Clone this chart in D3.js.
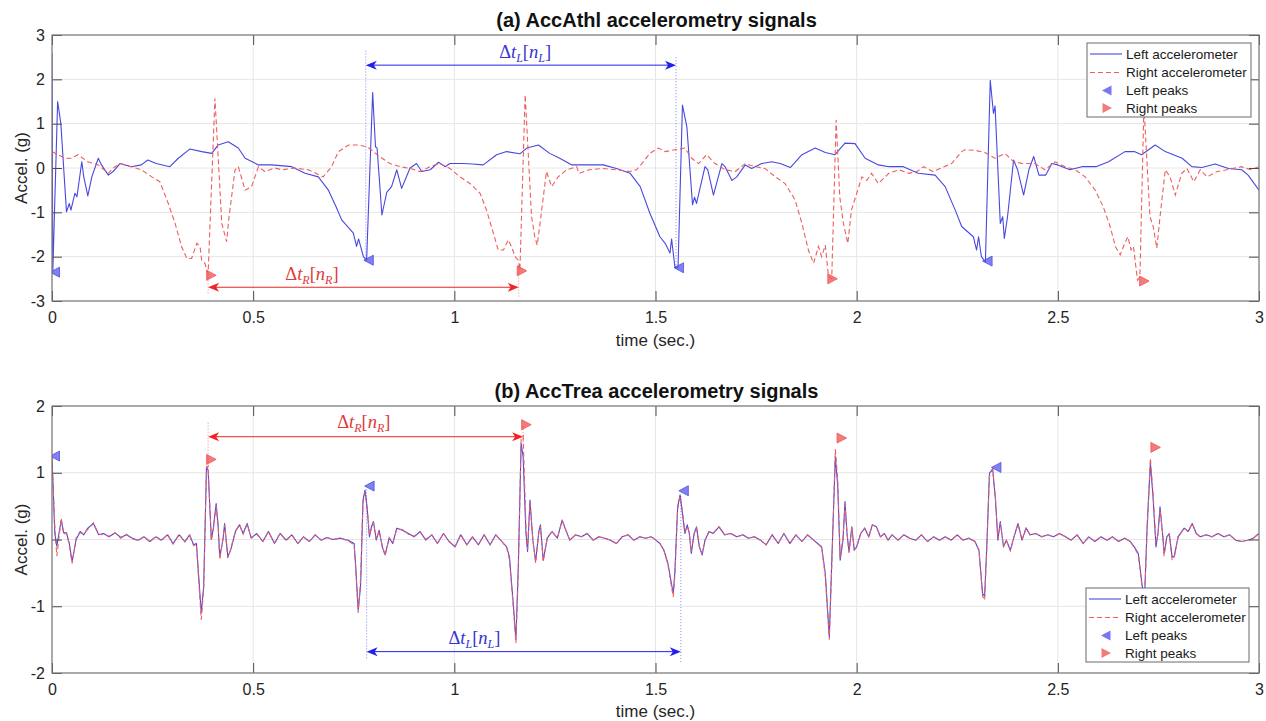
<!DOCTYPE html>
<html>
<head>
<meta charset="utf-8">
<script src="https://cdn.jsdelivr.net/npm/d3@7"></script>
<style>
  body { margin: 0; background: #fff; }
  svg { display: block; font-family: "Liberation Sans", Arial, sans-serif; }
</style>
</head>
<body>
<svg id="chart" width="1266" height="721"></svg>
<script>
/**
 * Data
 */
var timeTicks = [0, 0.5, 1, 1.5, 2, 2.5, 3];
var accTicksA = [-3, -2, -1, 0, 1, 2, 3];
var accTicksB = [-2, -1, 0, 1, 2];
var legendLabels = ['Left accelerometer', 'Right accelerometer', 'Left peaks', 'Right peaks'];

// (a) AccAthl: [time, accel] pairs
var athlLeft = [[0,2.6],[0.002,-2.35],[0.014,1.5],[0.022,1.0],[0.036,-0.99],[0.043,-0.8],[0.047,-0.95],[0.057,-0.57],[0.062,-0.65],[0.074,0.14],[0.079,-0.2],[0.089,-0.63],[0.099,-0.2],[0.115,0.22],[0.123,0.07],[0.14,-0.16],[0.152,-0.08],[0.169,0.1],[0.197,0.03],[0.222,0.07],[0.238,0.18],[0.259,0.1],[0.293,0.03],[0.314,0.22],[0.343,0.43],[0.372,0.37],[0.397,0.33],[0.413,0.52],[0.438,0.59],[0.463,0.45],[0.48,0.22],[0.513,0.07],[0.546,0.07],[0.596,0.03],[0.629,-0.12],[0.662,-0.2],[0.687,-0.5],[0.705,-0.85],[0.72,-1.17],[0.749,-1.47],[0.757,-1.77],[0.762,-1.6],[0.774,-2.0],[0.782,-2.08],[0.797,1.7],[0.804,0.48],[0.808,0.45],[0.82,-1.06],[0.832,-0.55],[0.844,-0.42],[0.857,-0.04],[0.869,-0.46],[0.89,0.0],[0.906,0.1],[0.919,-0.08],[0.94,-0.04],[0.961,0.13],[0.977,0.03],[0.989,0.1],[1.022,0.1],[1.045,0.09],[1.072,0.07],[1.105,0.3],[1.13,0.37],[1.163,0.32],[1.18,0.45],[1.209,0.52],[1.237,0.33],[1.262,0.22],[1.292,0.07],[1.32,0.07],[1.37,0.07],[1.403,-0.01],[1.437,-0.12],[1.462,-0.42],[1.486,-1.02],[1.511,-1.55],[1.524,-1.7],[1.536,-1.92],[1.54,-1.6],[1.548,-2.22],[1.556,-2.25],[1.567,1.42],[1.578,0.93],[1.592,-0.83],[1.597,-0.66],[1.602,-0.8],[1.623,0.03],[1.63,-0.04],[1.644,-0.61],[1.665,0.1],[1.673,0.03],[1.69,-0.28],[1.702,-0.2],[1.723,0.07],[1.739,-0.01],[1.764,0.1],[1.789,0.14],[1.81,0.1],[1.835,0.01],[1.864,0.3],[1.897,0.45],[1.922,0.35],[1.946,0.3],[1.971,0.56],[1.996,0.55],[2.021,0.22],[2.054,0.07],[2.08,0.03],[2.116,0.03],[2.153,-0.12],[2.195,-0.16],[2.22,-0.42],[2.245,-0.95],[2.261,-1.32],[2.29,-1.55],[2.298,-1.85],[2.303,-1.55],[2.31,-2.0],[2.32,-2.12],[2.332,1.98],[2.34,1.23],[2.344,1.4],[2.357,-1.25],[2.363,-1.1],[2.367,-1.59],[2.375,-1.1],[2.39,0.18],[2.4,-0.04],[2.415,-0.61],[2.428,-0.04],[2.44,0.26],[2.453,-0.16],[2.47,-0.16],[2.485,0.1],[2.5,0.07],[2.53,-0.04],[2.56,0.03],[2.595,0.03],[2.626,0.14],[2.667,0.37],[2.69,0.37],[2.708,0.3],[2.742,0.52],[2.767,0.37],[2.809,0.22],[2.833,0.03],[2.858,0.01],[2.891,0.09],[2.924,-0.01],[2.957,-0.04],[2.973,-0.16],[3.0,-0.5]];

var athlRight = [[0,0.37],[0.032,0.22],[0.048,0.22],[0.065,0.3],[0.089,0.14],[0.115,0.07],[0.14,-0.12],[0.152,0.0],[0.17,0.1],[0.197,0.03],[0.222,-0.04],[0.248,-0.2],[0.268,-0.31],[0.289,-0.8],[0.306,-1.25],[0.322,-1.77],[0.335,-2.04],[0.347,-2.04],[0.36,-1.7],[0.368,-1.77],[0.372,-2.08],[0.38,-2.15],[0.388,-2.38],[0.405,1.57],[0.422,-1.25],[0.434,-1.66],[0.44,-1.1],[0.455,-0.04],[0.463,0.03],[0.48,-0.5],[0.496,-0.42],[0.513,0.03],[0.529,-0.08],[0.554,0.0],[0.571,-0.04],[0.604,0.0],[0.637,-0.04],[0.674,-0.2],[0.695,0.03],[0.712,0.37],[0.737,0.52],[0.762,0.52],[0.782,0.48],[0.795,0.4],[0.815,0.25],[0.84,0.1],[0.865,0.03],[0.89,-0.01],[0.915,-0.08],[0.94,0.03],[0.964,0.1],[0.989,-0.01],[1.014,-0.2],[1.039,-0.35],[1.064,-0.57],[1.08,-0.95],[1.097,-1.47],[1.109,-1.85],[1.122,-1.85],[1.134,-1.62],[1.142,-1.77],[1.151,-2.0],[1.159,-2.08],[1.163,-2.3],[1.176,1.65],[1.192,-1.1],[1.2,-1.55],[1.206,-1.74],[1.213,-1.25],[1.229,-0.08],[1.242,-0.42],[1.258,-0.2],[1.279,-0.04],[1.304,0.03],[1.31,-0.12],[1.335,-0.04],[1.368,-0.01],[1.403,-0.04],[1.437,-0.08],[1.453,-0.04],[1.466,0.1],[1.486,0.33],[1.507,0.45],[1.524,0.37],[1.548,0.41],[1.573,0.45],[1.59,0.22],[1.607,0.1],[1.627,0.3],[1.648,0.1],[1.673,-0.04],[1.698,-0.08],[1.723,0.1],[1.748,0.03],[1.772,-0.01],[1.798,-0.2],[1.822,-0.35],[1.847,-0.72],[1.864,-1.25],[1.88,-1.85],[1.893,-2.15],[1.905,-1.77],[1.913,-2.0],[1.922,-1.74],[1.93,-2.45],[1.938,-2.5],[1.949,1.08],[1.958,-0.65],[1.967,-1.25],[1.978,-1.7],[1.987,-0.95],[2.013,-0.2],[2.025,-0.28],[2.037,-0.12],[2.054,-0.35],[2.08,-0.12],[2.105,-0.04],[2.13,-0.12],[2.15,-0.08],[2.166,0.03],[2.19,-0.08],[2.236,0.1],[2.261,0.37],[2.269,0.41],[2.294,0.4],[2.319,0.35],[2.344,0.22],[2.369,0.33],[2.39,0.14],[2.415,0.1],[2.443,0.1],[2.468,-0.04],[2.493,0.14],[2.518,0.03],[2.543,-0.04],[2.568,-0.2],[2.593,-0.5],[2.613,-0.88],[2.63,-1.32],[2.643,-1.77],[2.655,-1.96],[2.663,-1.77],[2.674,-1.55],[2.682,-1.85],[2.688,-1.77],[2.692,-2.08],[2.698,-2.53],[2.704,-2.45],[2.714,1.4],[2.729,-1.1],[2.737,-1.32],[2.746,-1.81],[2.754,-1.1],[2.767,-0.04],[2.779,-0.2],[2.792,-0.61],[2.808,-0.12],[2.821,-0.01],[2.838,-0.31],[2.854,-0.04],[2.871,-0.2],[2.896,-0.08],[2.92,-0.04],[2.956,0.03],[2.98,-0.04],[3.0,0.03]];

var athlLeftPeakT = [0, 0.78, 1.551, 2.318];
var athlLeftPeakV = [-2.35, -2.08, -2.25, -2.1];
var athlRightPeakT = [0.388, 1.16, 1.932, 2.707];
var athlRightPeakV = [-2.42, -2.32, -2.5, -2.55];

// (b) AccTrea: shared time base, two signals
var treaTime = [0,0.007,0.012,0.023,0.029,0.036,0.043,0.05,0.06,0.07,0.079,0.089,0.103,0.116,0.128,0.142,0.157,0.171,0.185,0.2,0.214,0.229,0.243,0.258,0.272,0.287,0.301,0.316,0.33,0.342,0.352,0.359,0.364,0.371,0.377,0.384,0.388,0.396,0.401,0.408,0.413,0.417,0.425,0.429,0.437,0.444,0.456,0.466,0.475,0.485,0.495,0.509,0.524,0.538,0.553,0.567,0.582,0.596,0.611,0.625,0.64,0.654,0.669,0.683,0.698,0.717,0.736,0.751,0.755,0.761,0.767,0.773,0.778,0.783,0.789,0.794,0.799,0.806,0.813,0.821,0.828,0.838,0.847,0.857,0.871,0.886,0.9,0.915,0.929,0.944,0.958,0.973,0.987,1.002,1.016,1.031,1.045,1.06,1.074,1.089,1.103,1.118,1.13,1.137,1.147,1.153,1.159,1.166,1.171,1.178,1.182,1.188,1.195,1.202,1.21,1.214,1.221,1.231,1.243,1.256,1.268,1.277,1.287,1.301,1.316,1.33,1.345,1.359,1.374,1.388,1.403,1.417,1.432,1.446,1.461,1.475,1.49,1.501,1.511,1.521,1.531,1.541,1.544,1.548,1.555,1.561,1.567,1.573,1.579,1.584,1.589,1.596,1.602,1.609,1.616,1.623,1.633,1.643,1.658,1.672,1.687,1.702,1.717,1.731,1.746,1.761,1.775,1.79,1.805,1.819,1.834,1.849,1.864,1.878,1.893,1.903,1.913,1.922,1.932,1.939,1.947,1.953,1.959,1.966,1.971,1.976,1.981,1.988,1.994,2.0,2.01,2.02,2.03,2.039,2.049,2.059,2.069,2.078,2.088,2.103,2.117,2.132,2.147,2.161,2.176,2.191,2.206,2.22,2.235,2.25,2.264,2.279,2.294,2.304,2.313,2.318,2.323,2.33,2.338,2.345,2.351,2.357,2.365,2.372,2.382,2.391,2.401,2.411,2.421,2.431,2.445,2.46,2.475,2.489,2.504,2.519,2.533,2.548,2.563,2.577,2.592,2.607,2.622,2.636,2.651,2.666,2.68,2.69,2.7,2.708,2.715,2.722,2.73,2.736,2.744,2.749,2.754,2.761,2.764,2.771,2.777,2.784,2.789,2.799,2.814,2.824,2.834,2.844,2.854,2.869,2.883,2.898,2.913,2.927,2.942,2.957,2.972,2.986,3.0];
var treaLeft = [1.25,0.09,-0.1,0.29,0.1,0.1,-0.06,-0.33,0,0.12,0.07,0.17,0.24,0.07,0.09,0.04,0.1,0.03,0.07,0.02,-0.01,0.04,-0.03,0.04,-0.01,0.07,-0.06,0.07,-0.03,0.07,-0.08,-0.06,-0.5,-1.1,-0.7,1.09,1.04,0,0.17,0.54,0.19,-0.26,0,0.24,-0.26,-0.16,0.12,0.22,0.09,0.24,0.02,0.09,-0.03,0.12,-0.06,0.09,-0.01,0.07,-0.06,0.04,-0.03,0.07,-0.01,0.03,0,0.02,-0.01,-0.06,-0.41,-1.06,-0.7,0.59,0.74,0.49,0.04,0.19,0.27,-0.01,0.14,-0.11,-0.23,0.02,-0.06,0.17,0.14,0.09,0.04,0.12,-0.01,0.07,-0.06,0.09,-0.03,-0.11,0.07,-0.08,0.04,-0.08,0.07,-0.08,0.07,-0.03,-0.11,-0.26,-1.0,-1.5,-0.4,1.44,1.24,0.09,-0.18,0.59,0,-0.33,0.12,0.22,-0.31,0.02,0.12,0.02,0.29,0.14,-0.01,0.07,0.04,0.09,-0.01,0.04,0.02,-0.01,-0.06,0.04,0.07,-0.01,0.04,0.02,0.04,-0.01,-0.06,-0.16,-0.36,-0.71,-0.8,-0.51,0.49,0.67,0.39,0.09,0.22,0.09,-0.21,0.09,0.19,-0.11,-0.23,-0.01,0.12,0.09,0.19,0.07,0.09,0.04,0.07,0.02,0.04,-0.01,-0.08,0.07,-0.06,0.09,-0.06,0.07,-0.03,0.07,-0.01,-0.06,-0.11,-0.51,-1.46,-0.16,1.24,0.79,-0.31,-0.01,0.57,0.09,-0.18,0.19,-0.16,-0.11,0.09,0.17,0.04,0.22,0.19,0.04,0.09,-0.01,0.07,-0.01,0.07,0.02,-0.01,0.07,-0.03,0.04,-0.01,0.04,-0.01,0.07,-0.01,0.02,-0.03,-0.16,-0.81,-0.85,-0.16,0.99,1.06,0.59,-0.01,0.27,-0.11,-0.01,-0.16,0.04,0.24,-0.01,0.17,0.07,0.09,0.04,0.07,0.04,0.09,0.04,-0.01,0.07,-0.06,0.04,-0.03,0.04,-0.01,0.04,-0.03,0.02,-0.03,-0.11,-0.21,-0.61,-0.95,0.2,1.14,0.69,-0.11,0.1,0.49,0.04,-0.21,0.04,0.09,-0.26,-0.26,0.04,0.17,0.12,0.24,0.09,0.04,0.07,0.04,0.09,0.04,0.07,-0.01,-0.03,-0.01,0.02,0.09];
var treaRight = [1.2,0.2,-0.25,0.32,0.08,0.1,-0.08,-0.36,0.02,0.1,0.09,0.15,0.25,0.08,0.07,0.05,0.1,0.02,0.08,0.01,-0.02,0.05,-0.04,0.05,-0.02,0.08,-0.07,0.08,-0.04,0.06,-0.09,-0.08,-0.55,-1.2,-0.75,1.08,1.1,-0.02,0.15,0.5,0.2,-0.3,0.02,0.22,-0.28,-0.15,0.13,0.22,0.08,0.23,0.03,0.08,-0.03,0.12,-0.05,0.09,-0.02,0.07,-0.06,0.04,-0.03,0.07,-0.01,0.03,0,0.02,-0.02,-0.08,-0.45,-1.1,-0.6,0.55,0.7,0.5,0.06,0.17,0.25,0,0.13,-0.1,-0.24,0.03,-0.05,0.16,0.15,0.08,0.05,0.11,0,0.07,-0.06,0.09,-0.03,-0.1,0.07,-0.08,0.04,-0.08,0.07,-0.08,0.07,-0.03,-0.12,-0.3,-1.05,-1.55,-0.5,1.5,1.55,0.2,-0.15,0.55,0.02,-0.35,0.1,0.2,-0.33,0.03,0.12,0.02,0.28,0.15,-0.01,0.07,0.04,0.09,-0.01,0.04,0.02,-0.01,-0.06,0.04,0.07,-0.01,0.04,0.02,0.04,-0.01,-0.06,-0.17,-0.38,-0.75,-0.86,-0.55,0.45,0.65,0.42,0.12,0.2,0.1,-0.18,0.08,0.17,-0.1,-0.22,-0.01,0.12,0.09,0.19,0.07,0.09,0.04,0.07,0.02,0.04,-0.01,-0.08,0.07,-0.06,0.09,-0.06,0.07,-0.03,0.07,-0.01,-0.06,-0.12,-0.55,-1.5,-0.25,1.35,0.9,-0.28,0.02,0.52,0.1,-0.2,0.18,-0.15,-0.11,0.09,0.17,0.04,0.22,0.19,0.04,0.09,-0.01,0.07,-0.01,0.07,0.02,-0.01,0.07,-0.03,0.04,-0.01,0.04,-0.01,0.07,-0.01,0.02,-0.03,-0.17,-0.85,-0.91,-0.2,0.95,1.05,0.62,0,0.25,-0.1,-0.01,-0.17,0.04,0.23,-0.01,0.17,0.07,0.09,0.04,0.07,0.04,0.09,0.04,-0.01,0.07,-0.06,0.04,-0.03,0.04,-0.01,0.04,-0.03,0.02,-0.03,-0.12,-0.23,-0.65,-1.0,0.15,1.22,0.75,-0.05,0.08,0.45,0.06,-0.25,0.03,0.08,-0.3,-0.28,0.04,0.17,0.12,0.24,0.09,0.04,0.07,0.04,0.09,0.04,0.07,-0.01,-0.03,-0.01,0.02,0.09];

var treaLeftPeakT = [0, 0.782, 1.563, 2.34];
var treaLeftPeakV = [1.25, 0.8, 0.73, 1.08];
var treaRightPeakT = [0.388, 1.171, 1.955, 2.735];
var treaRightPeakV = [1.2, 1.72, 1.52, 1.38];

/**
 * Layout and styles
 */
var svg = d3.select('#chart');
var plotL = 52, plotR = 1259;
var blue = '#4848e0', red = '#ec5e5e';
var annBlue = '#2020ee', annRed = '#f02424';

var xScale = d3.scaleLinear().domain([0, 3]).range([plotL, plotR]);

var panels = [
    {
        id: 'a', title: '(a) AccAthl accelerometry signals', titleY: 27,
        top: 35, bottom: 301, yDomain: [-3, 3], yTicks: accTicksA, xlabelY: 346,
        left: athlLeft, right: athlRight,
        leftPeaks: d3.zip(athlLeftPeakT, athlLeftPeakV),
        rightPeaks: d3.zip(athlRightPeakT, athlRightPeakV),
        legend: {x: 1087, y: 43, w: 164, h: 74},
        // dotted guides: [time, from, to, colour]
        guides: [[athlLeftPeakT[1], 2.65, -2.1, annBlue], [athlLeftPeakT[2], 2.5, -2.3, annBlue],
                 [athlRightPeakT[0], -2.4, -2.85, annRed], [athlRightPeakT[1], -2.2, -2.9, annRed]],
        // arrows: [t0, t1, level, colour, label sub, label t, label level]
        arrows: [[athlLeftPeakT[1], athlLeftPeakT[2], 2.32, annBlue, 'L', 1.176, 2.48],
                 [athlRightPeakT[0], athlRightPeakT[1], -2.69, annRed, 'R', 0.646, -2.53]]
    },
    {
        id: 'b', title: '(b) AccTrea accelerometry signals', titleY: 398,
        top: 406, bottom: 673, yDomain: [-2, 2], yTicks: accTicksB, xlabelY: 717,
        left: d3.zip(treaTime, treaLeft), right: d3.zip(treaTime, treaRight),
        leftPeaks: d3.zip(treaLeftPeakT, treaLeftPeakV),
        rightPeaks: d3.zip(treaRightPeakT, treaRightPeakV),
        legend: {x: 1086, y: 588, w: 163, h: 74},
        guides: [[treaRightPeakT[0], 1.75, 1.1, annRed], [treaRightPeakT[1], 1.7, 1.45, annRed],
                 [treaLeftPeakT[1], 0.75, -1.8, annBlue], [treaLeftPeakT[2], 0.65, -1.85, annBlue]],
        arrows: [[treaRightPeakT[0], treaRightPeakT[1], 1.54, annRed, 'R', 0.775, 1.67],
                 [treaLeftPeakT[1], treaLeftPeakT[2], -1.68, annBlue, 'L', 1.05, -1.57]]
    }
];

// triangle marker paths
var triLeft = 'M-5,0L4.5,-5L4.5,5Z';
var triRight = 'M5,0L-4.5,-5L-4.5,5Z';

function arrowHead(x, y, dir) {
    // notched arrow head, tip at (x,y), dir = +1 points right
    var L = 11, w = 4.5, n = 3;
    return 'M' + x + ',' + y + 'L' + (x - dir * L) + ',' + (y - w) +
        'L' + (x - dir * (L - n)) + ',' + y + 'L' + (x - dir * L) + ',' + (y + w) + 'Z';
}

function mathLabel(g, x, y, sub, color) {
    var t = g.append('text').attr('x', x).attr('y', y)
        .attr('text-anchor', 'middle')
        .attr('font-family', '"Liberation Serif", "DejaVu Serif", serif')
        .attr('font-size', 18.5).attr('fill', color);
    t.append('tspan').text('\u0394');
    t.append('tspan').attr('font-style', 'italic').text('t');
    t.append('tspan').attr('font-style', 'italic').attr('font-size', 12).attr('dy', 4).text(sub);
    t.append('tspan').attr('dy', -4).text('[');
    t.append('tspan').attr('font-style', 'italic').text('n');
    t.append('tspan').attr('font-style', 'italic').attr('font-size', 12).attr('dy', 4).text(sub);
    t.append('tspan').attr('dy', -4).text(']');
}

function drawPanel(p) {
    var yScale = d3.scaleLinear().domain(p.yDomain).range([p.bottom, p.top]);
    var g = svg.append('g');

    // grid
    g.selectAll('.gx').data(timeTicks).join('line')
        .attr('x1', d => xScale(d)).attr('x2', d => xScale(d))
        .attr('y1', p.top).attr('y2', p.bottom)
        .attr('stroke', '#e6e6e6').attr('stroke-width', 1);
    g.selectAll('.gy').data(p.yTicks).join('line')
        .attr('x1', plotL).attr('x2', plotR)
        .attr('y1', d => yScale(d)).attr('y2', d => yScale(d))
        .attr('stroke', '#e6e6e6').attr('stroke-width', 1);

    svg.append('clipPath').attr('id', 'clip-' + p.id)
        .append('rect').attr('x', plotL).attr('y', p.top)
        .attr('width', plotR - plotL).attr('height', p.bottom - p.top);

    var plot = g.append('g').attr('clip-path', 'url(#clip-' + p.id + ')');
    var line = d3.line().x(d => xScale(d[0])).y(d => yScale(d[1]));

    plot.append('path').datum(p.left).attr('d', line)
        .attr('fill', 'none').attr('stroke', blue).attr('stroke-width', 1.1)
        .attr('stroke-linejoin', 'round');
    plot.append('path').datum(p.right).attr('d', line)
        .attr('fill', 'none').attr('stroke', red).attr('stroke-width', 1.1)
        .attr('stroke-dasharray', '5,3');

    // peak markers
    plot.selectAll('.lp').data(p.leftPeaks).join('path')
        .attr('d', triLeft)
        .attr('transform', d => 'translate(' + [xScale(d[0]) + 3, yScale(d[1])] + ')')
        .attr('fill', '#5555ee').attr('fill-opacity', 0.75).attr('stroke', '#5050e0').attr('stroke-width', 0.8);
    plot.selectAll('.rp').data(p.rightPeaks).join('path')
        .attr('d', triRight)
        .attr('transform', d => 'translate(' + [xScale(d[0]) + 3, yScale(d[1])] + ')')
        .attr('fill', '#f05a5a').attr('fill-opacity', 0.8).attr('stroke', '#ee5555').attr('stroke-width', 0.8);

    // dotted guides
    g.selectAll('.guide').data(p.guides).join('line')
        .attr('x1', d => xScale(d[0])).attr('x2', d => xScale(d[0]))
        .attr('y1', d => yScale(d[1])).attr('y2', d => yScale(d[2]))
        .attr('stroke', d => d[3]).attr('stroke-width', 0.8)
        .attr('stroke-dasharray', '1,2').attr('opacity', 0.7);

    // double arrows with labels
    p.arrows.forEach(function(a) {
        var x0 = xScale(a[0]), x1 = xScale(a[1]), yy = yScale(a[2]);
        g.append('line').attr('x1', x0 + 4).attr('x2', x1 - 4)
            .attr('y1', yy).attr('y2', yy)
            .attr('stroke', a[3]).attr('stroke-width', 1);
        g.append('path').attr('d', arrowHead(x0, yy, -1)).attr('fill', a[3]);
        g.append('path').attr('d', arrowHead(x1, yy, 1)).attr('fill', a[3]);
        mathLabel(g, xScale(a[5]), yScale(a[6]), a[4], a[3] === annBlue ? '#3535d0' : '#e03a3a');
    });

    // axes (ticks inside, mirrored)
    var fmt = d => String(d);
    var axes = [
        g.append('g').attr('transform', 'translate(0,' + p.bottom + ')')
            .call(d3.axisBottom(xScale).tickValues(timeTicks).tickFormat(fmt).tickSize(-10).tickPadding(11)),
        g.append('g').attr('transform', 'translate(0,' + p.top + ')')
            .call(d3.axisTop(xScale).tickValues(timeTicks).tickFormat('').tickSize(-10)),
        g.append('g').attr('transform', 'translate(' + plotL + ',0)')
            .call(d3.axisLeft(yScale).tickValues(p.yTicks).tickFormat(fmt).tickSize(-10).tickPadding(7)),
        g.append('g').attr('transform', 'translate(' + plotR + ',0)')
            .call(d3.axisRight(yScale).tickValues(p.yTicks).tickFormat('').tickSize(-10))
    ];
    axes.forEach(function(ax) {
        ax.select('.domain').remove();
        ax.selectAll('.tick line').attr('stroke', '#4a4a4a');
        ax.selectAll('.tick text').attr('font-size', 16).attr('fill', '#262626')
            .attr('font-family', '"Liberation Sans", Arial, sans-serif');
    });

    g.append('rect').attr('x', plotL).attr('y', p.top)
        .attr('width', plotR - plotL).attr('height', p.bottom - p.top)
        .attr('fill', 'none').attr('stroke', '#7a7a7a').attr('stroke-width', 1.2);

    // labels
    g.append('text').attr('x', (plotL + plotR) / 2 + 1).attr('y', p.titleY)
        .attr('text-anchor', 'middle').attr('font-size', 20).attr('font-weight', 'bold')
        .attr('fill', '#111').text(p.title);
    g.append('text').attr('x', (plotL + plotR) / 2).attr('y', p.xlabelY)
        .attr('text-anchor', 'middle').attr('font-size', 17).attr('fill', '#262626')
        .text('time (sec.)');
    g.append('text')
        .attr('transform', 'translate(21,' + ((p.top + p.bottom) / 2) + ') rotate(-90)')
        .attr('text-anchor', 'middle').attr('dominant-baseline', 'central')
        .attr('font-size', 17).attr('fill', '#262626').text('Accel. (g)');

    // legend
    var lg = g.append('g').attr('transform', 'translate(' + [p.legend.x, p.legend.y] + ')');
    lg.append('rect').attr('width', p.legend.w).attr('height', p.legend.h)
        .attr('fill', '#fff').attr('stroke', '#6a6a6a').attr('stroke-width', 1);
    var rowY = [11, 29.5, 47.5, 65];
    legendLabels.forEach(function(lbl, i) {
        var ry = rowY[i];
        if (i === 0) {
            lg.append('line').attr('x1', 3).attr('x2', 35).attr('y1', ry).attr('y2', ry)
                .attr('stroke', blue).attr('stroke-width', 1.1);
        } else if (i === 1) {
            lg.append('line').attr('x1', 3).attr('x2', 35).attr('y1', ry).attr('y2', ry)
                .attr('stroke', red).attr('stroke-width', 1.1).attr('stroke-dasharray', '5,3');
        } else {
            lg.append('path').attr('d', i === 2 ? triLeft : triRight)
                .attr('transform', 'translate(' + [20, ry] + ')')
                .attr('fill', i === 2 ? '#5555ee' : '#f05a5a').attr('fill-opacity', 0.8);
        }
        lg.append('text').attr('x', 39).attr('y', ry).attr('dominant-baseline', 'central')
            .attr('font-size', 13.5).attr('fill', '#1a1a1a').text(lbl);
    });
}

panels.forEach(drawPanel);
</script>
</body>
</html>
